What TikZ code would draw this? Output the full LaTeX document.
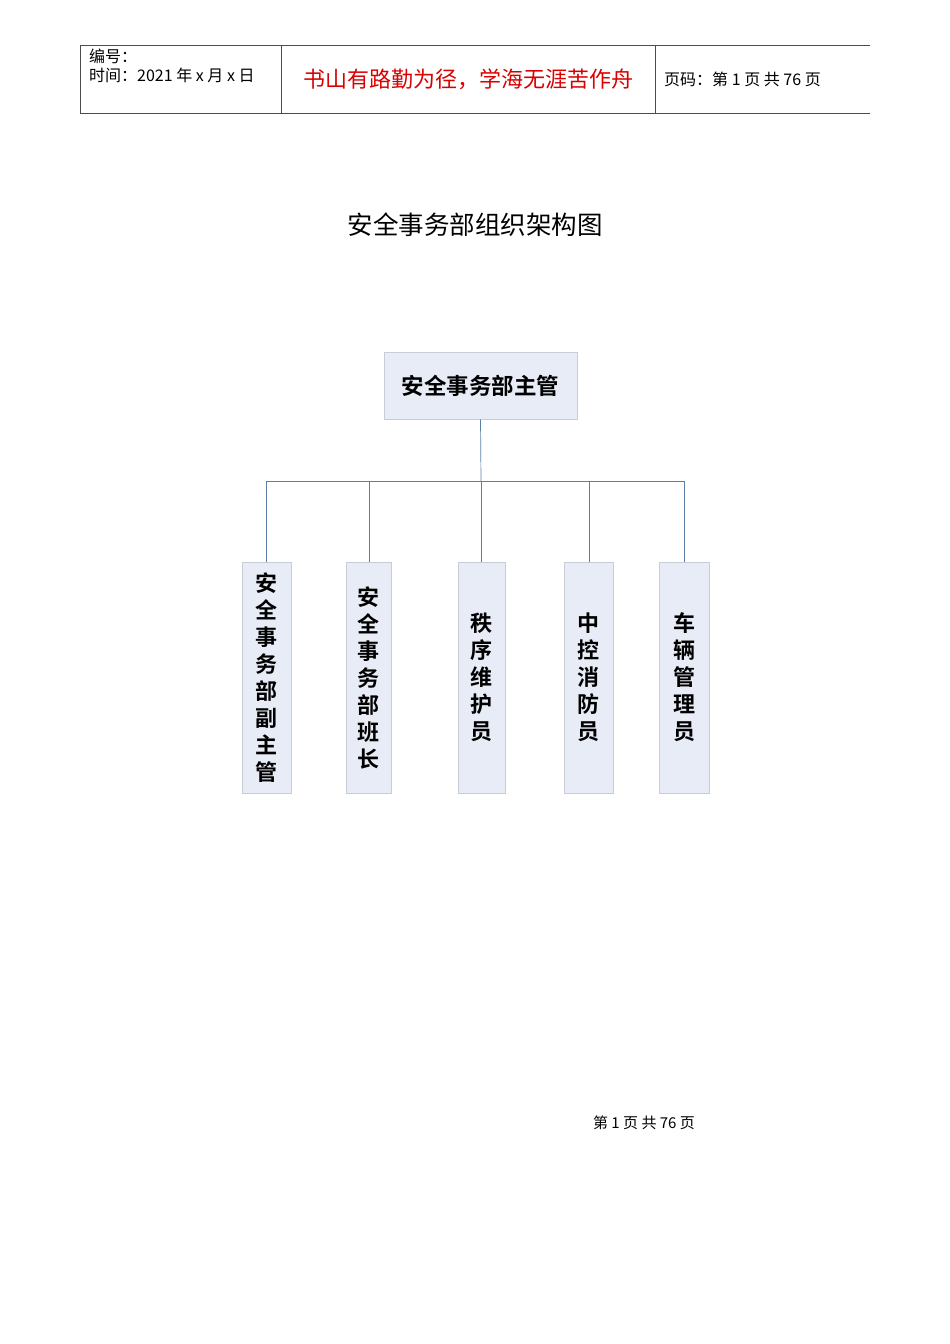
\documentclass[tikz,border=0pt]{standalone}
\usepackage{fontspec}
\setmainfont{Noto Sans CJK SC}
\newfontfamily\cjkb{Noto Sans CJK SC Bold}
\definecolor{boxfill}{HTML}{E8ECF6}
\definecolor{boxline}{HTML}{C8CCD4}
\definecolor{conn}{HTML}{5B7FA8}
\begin{document}
\begin{tikzpicture}[x=1pt,y=-1pt,
  tbl/.style={draw=black!70,line width=0.8pt},
  orgbox/.style={draw=boxline,fill=boxfill,line width=0.8pt,inner sep=0pt},
  vtxt/.style={font=\cjkb\fontsize{22}{27}\selectfont,align=center},
  link/.style={draw=conn,line width=0.7pt}]
\useasboundingbox (0,0) rectangle (950,1344);
% header table
\draw[tbl] (80,45) -- (870,45);
\draw[tbl] (80,113) -- (870,113);
\draw[tbl] (80,45) -- (80,113);
\draw[tbl] (281,45) -- (281,113);
\draw[tbl] (655,45) -- (655,113);
\node[anchor=west,font=\fontsize{16}{16}\selectfont,inner sep=0pt] (h1) at (89,56) {编号：};
\node[anchor=west,font=\fontsize{16}{16}\selectfont,inner sep=0pt] (h2) at (89,75) {时间：2021 年 x 月 x 日};
\node[font=\fontsize{22}{22}\selectfont,text=red!85!black,inner sep=0pt] (h3) at (468,79) {书山有路勤为径，学海无涯苦作舟};
\node[anchor=west,font=\fontsize{16}{16}\selectfont,inner sep=0pt] (h4) at (664,79) {页码：第 1 页 共 76 页};
% title
\node[font=\fontsize{25.5}{25.5}\selectfont,inner sep=0pt] (title) at (475,225) {安全事务部组织架构图};
% org chart
\node[orgbox,minimum width=193pt,minimum height=67pt,font=\cjkb\fontsize{22.5}{22.5}\selectfont] (top) at (480.5,385.5) {安全事务部主管};
\node[orgbox,minimum width=49pt,minimum height=231pt] (b1) at (266.5,677.5) {};
\node[orgbox,minimum width=45pt,minimum height=231pt] (b2) at (368.5,677.5) {};
\node[orgbox,minimum width=47pt,minimum height=231pt] (b3) at (481.5,677.5) {};
\node[orgbox,minimum width=49pt,minimum height=231pt] (b4) at (588.5,677.5) {};
\node[orgbox,minimum width=50pt,minimum height=231pt] (b5) at (684,677.5) {};
\node[vtxt] (t1) at (b1) {安\\全\\事\\务\\部\\副\\主\\管};
\node[vtxt] (t2) at (b2) {安\\全\\事\\务\\部\\班\\长};
\node[vtxt] (t3) at (b3) {秩\\序\\维\\护\\员};
\node[vtxt] (t4) at (b4) {中\\控\\消\\防\\员};
\node[vtxt] (t5) at (b5) {车\\辆\\管\\理\\员};
\coordinate (bus) at (481,481);
\draw[link] (top.south) -- (bus);
\foreach \b/\x in {b1/266,b2/369,b3/481,b4/589,b5/684}{
  \draw[link] (\x,481) -- (\b.north -| \x,0);
}
\draw[link] (266,481) -- (684,481);
% footer
\node[font=\fontsize{15}{15}\selectfont,inner sep=0pt] (foot) at (644,1123) {第 1 页 共 76 页};
\end{tikzpicture}
\end{document}
